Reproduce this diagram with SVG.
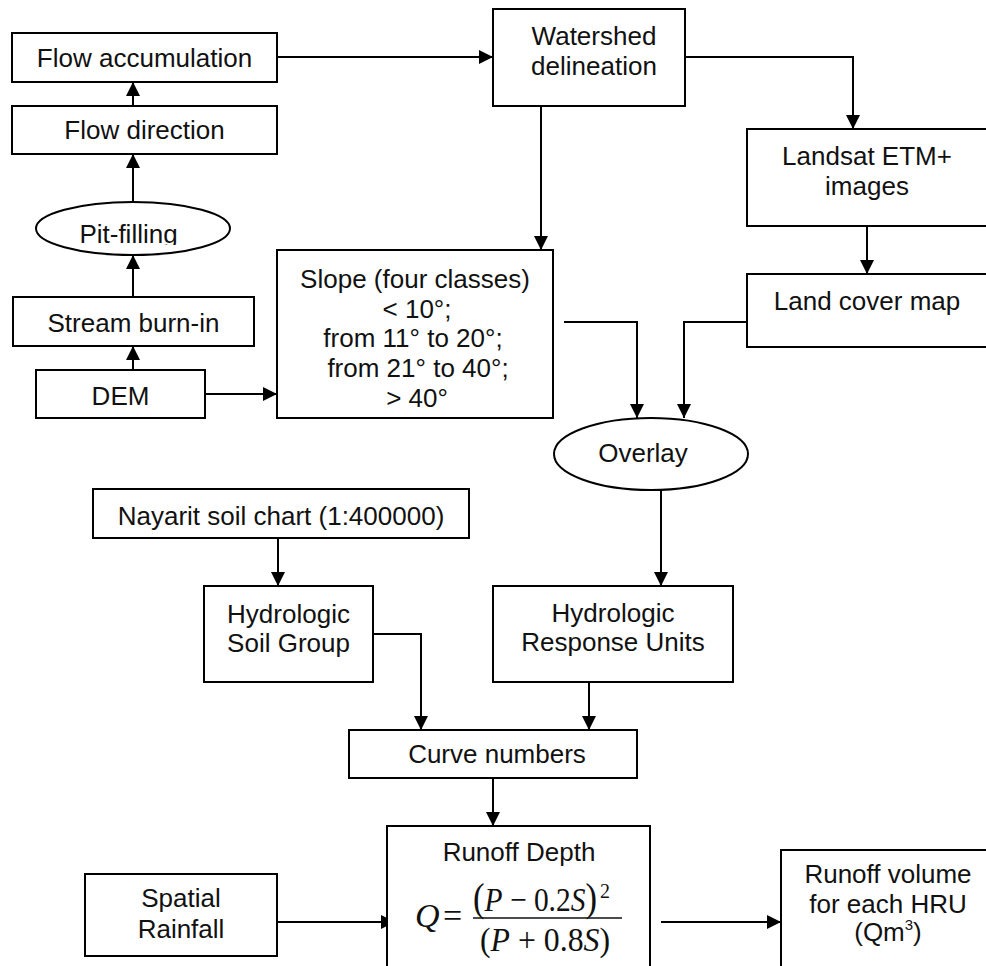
<svg xmlns="http://www.w3.org/2000/svg" width="986" height="966" viewBox="0 0 986 966">
<style>
.box{fill:#fff;stroke:#000;stroke-width:2}
.t{font-family:"Liberation Sans",Arial,sans-serif;font-size:26px;fill:#111;text-anchor:middle}
.m{font-family:"Liberation Serif","Times New Roman",serif;font-size:34px;fill:#111}
.c{fill:none;stroke:#000;stroke-width:2;marker-end:url(#ah)}
</style>
<defs>
<marker id="ah" markerWidth="14" markerHeight="14" refX="14" refY="7" orient="auto" markerUnits="userSpaceOnUse"><path d="M0,0 L14,7 L0,14 z" fill="#000"/></marker>
<clipPath id="pitclip"><rect x="0" y="0" width="986" height="245"/></clipPath>
</defs>
<rect width="986" height="966" fill="#fff"/>
<g id="connectors">
<path class="c" d="M277,57 H493"/>
<path class="c" d="M133,106 V82"/>
<path class="c" d="M133,202 V154"/>
<path class="c" d="M133,297 V255"/>
<path class="c" d="M133,370 V346"/>
<path class="c" d="M205,394 H277"/>
<path class="c" d="M541,106 V250"/>
<path class="c" d="M685,57 H853 V129"/>
<path class="c" d="M867,226 V274"/>
<path class="c" d="M564,322 H637 V418"/>
<path class="c" d="M747,322 H684 V418"/>
<path class="c" d="M278,538 V586"/>
<path class="c" d="M661,490 V586"/>
<path class="c" d="M373,634 H421 V730"/>
<path class="c" d="M589,682 V730"/>
<path class="c" d="M493,778 V826"/>
<path class="c" d="M277,922 H395"/>
<path class="c" d="M661,922 H781"/>
</g>
<g id="flow-accumulation"><rect class="box" x="12" y="33" width="265" height="49"/><text class="t" x="144.5" y="67">Flow accumulation</text></g>
<g id="flow-direction"><rect class="box" x="12" y="106" width="265" height="48"/><text class="t" x="144.5" y="139">Flow direction</text></g>
<g id="pit-filling"><ellipse class="box" cx="133" cy="228.5" rx="97" ry="26.5"/><text class="t" x="128.5" y="243" clip-path="url(#pitclip)">Pit-filling</text></g>
<g id="stream-burn-in"><rect class="box" x="13" y="297" width="241" height="49"/><text class="t" x="133.5" y="332">Stream burn-in</text></g>
<g id="dem"><rect class="box" x="36" y="370" width="169" height="48"/><text class="t" x="120.5" y="405">DEM</text></g>
<g id="watershed"><rect class="box" x="493" y="9" width="192" height="97"/><text class="t" x="594" y="45">Watershed</text><text class="t" x="594" y="75">delineation</text></g>
<g id="landsat"><rect class="box" x="747" y="129" width="250" height="97"/><text class="t" x="867" y="165">Landsat ETM+</text><text class="t" x="867" y="195">images</text></g>
<g id="land-cover"><rect class="box" x="747" y="274" width="250" height="73"/><text class="t" x="867" y="310">Land cover map</text></g>
<g id="slope"><rect class="box" x="277" y="250" width="276" height="168"/>
<text class="t" x="415" y="288">Slope (four classes)</text>
<text class="t" x="417" y="318">&lt; 10°;</text>
<text class="t" x="413" y="347">from 11° to 20°;</text>
<text class="t" x="418" y="377">from 21° to 40°;</text>
<text class="t" x="417" y="407">&gt; 40°</text></g>
<g id="overlay"><ellipse class="box" cx="651" cy="454" rx="97" ry="36"/><text class="t" x="643" y="462">Overlay</text></g>
<g id="nayarit"><rect class="box" x="93" y="489" width="376" height="49"/><text class="t" x="281" y="525">Nayarit soil chart (1:400000)</text></g>
<g id="hsg"><rect class="box" x="204" y="586" width="169" height="96"/><text class="t" x="288.5" y="623">Hydrologic</text><text class="t" x="288.5" y="652">Soil Group</text></g>
<g id="hru"><rect class="box" x="493" y="586" width="240" height="96"/><text class="t" x="613" y="622">Hydrologic</text><text class="t" x="613" y="651">Response Units</text></g>
<g id="curve-numbers"><rect class="box" x="349" y="730" width="288" height="48"/><text class="t" x="497" y="763">Curve numbers</text></g>
<g id="runoff-depth"><rect class="box" x="387" y="826" width="263" height="160"/>
<text class="t" x="519" y="861">Runoff Depth</text>
<text class="m" x="415" y="927" font-style="italic">Q</text>
<text class="m" x="443" y="927">=</text>
<line x1="473" y1="918" x2="622" y2="918" stroke="#111" stroke-width="1.5"/>
<text class="m" x="473" y="911" textLength="124" lengthAdjust="spacingAndGlyphs"><tspan font-size="40">(</tspan><tspan font-style="italic">P</tspan> − 0.2<tspan font-style="italic">S</tspan><tspan font-size="40">)</tspan></text>
<text class="m" x="600" y="898" style="font-size:20px">2</text>
<text class="m" x="480" y="951" textLength="130" lengthAdjust="spacingAndGlyphs">(<tspan font-style="italic">P</tspan> + 0.8<tspan font-style="italic">S</tspan>)</text>
</g>
<g id="spatial-rainfall"><rect class="box" x="85" y="874" width="192" height="82"/><text class="t" x="181" y="907">Spatial</text><text class="t" x="181" y="938">Rainfall</text></g>
<g id="runoff-volume"><rect class="box" x="781" y="850" width="215" height="130"/><text class="t" x="888" y="883">Runoff volume</text><text class="t" x="888" y="913">for each HRU</text><text class="t" x="888" y="941">(Qm<tspan font-size="15" dy="-11">3</tspan><tspan dy="11">)</tspan></text></g>
</svg>
